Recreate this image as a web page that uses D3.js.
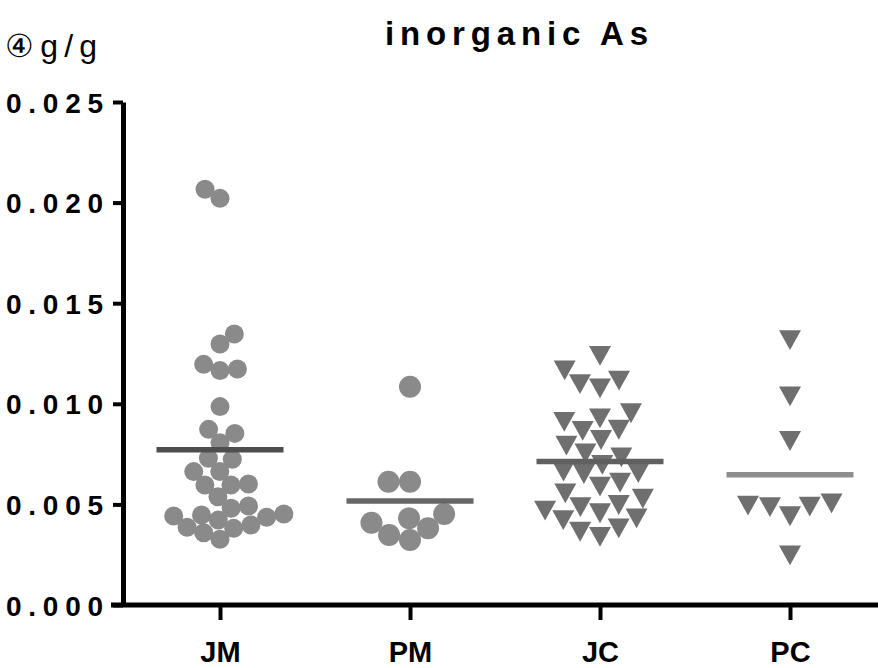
<!DOCTYPE html>
<html><head><meta charset="utf-8">
<script src="https://cdn.jsdelivr.net/npm/d3@7"></script>
<style>
body{margin:0;background:#fff;}
svg{display:block;font-family:"Liberation Sans",Arial,Helvetica,sans-serif;}
</style></head><body>
<svg id="chart" width="878" height="668"></svg>
<script>
// ---------- data ----------
const categories = ["JM", "PM", "JC", "PC"];
const jmValues = [0.02066, 0.02021, 0.01347, 0.01297, 0.01196, 0.01165, 0.01173, 0.00986,
  0.00853, 0.00873, 0.00807, 0.00729, 0.00724, 0.00663, 0.00663, 0.00601, 0.00596, 0.00596,
  0.00538, 0.00481, 0.00447, 0.00442, 0.00452, 0.00492, 0.00436, 0.00398, 0.00381, 0.00359,
  0.00386, 0.00422, 0.00327];
const pmValues = [0.01085, 0.00613, 0.00613, 0.00431, 0.00381, 0.00323, 0.00348, 0.00409, 0.00452];
const jcValues = [0.01238, 0.01166, 0.01115, 0.01077, 0.01098, 0.00953, 0.00928, 0.00910,
  0.00865, 0.00871, 0.00820, 0.00792, 0.00734, 0.00754, 0.00696, 0.00651, 0.00663, 0.00655,
  0.00588, 0.00608, 0.00555, 0.00528, 0.00497, 0.00469, 0.00486, 0.00431, 0.00456, 0.00422,
  0.00381, 0.00364, 0.00339];
const pcValues = [0.01316, 0.01037, 0.00815, 0.00494, 0.00486, 0.00441, 0.00489, 0.00505, 0.00247];
const yTickValues = [0.000, 0.005, 0.010, 0.015, 0.020, 0.025];
const titleText = "inorganic As";
const unitText = "④g/g";

// ---------- styles (not data) ----------
const seriesStyle = {
  JM: {shape: "circle", size: 19, gap: 17.5, fill: "#8a8a8a", line: "#4e4e4e"},
  PM: {shape: "circle", size: 22, gap: 21.5, fill: "#8a8a8a", line: "#666666"},
  JC: {shape: "triangle", size: 22, gap: 20.5, fill: "#6f6f6f", line: "#606060"},
  PC: {shape: "triangle", size: 22, gap: 22, fill: "#6f6f6f", line: "#8e8e8e"}
};
const series = [
  {cat: "JM", values: jmValues},
  {cat: "PM", values: pmValues},
  {cat: "JC", values: jcValues},
  {cat: "PC", values: pcValues}
];

const svg = d3.select("#chart");
const axisX0 = 123, axisY0 = 605, axisYTop = 102;

const y = d3.scaleLinear().domain([0, 0.025]).range([axisY0, axisYTop]);
const x = d3.scalePoint().domain(categories).range([axisX0 + 2, 885]).padding(0.5);

// swarm layout: ascending order, closest non-colliding offset, alternate sides
function swarm(values, D) {
  const order = values.map((v, i) => i).sort((a, b) => values[a] - values[b]);
  const placed = [];
  const off = new Array(values.length);
  let pref = -1;
  for (const i of order) {
    const py = y(values[i]);
    const near = placed.filter(p => Math.abs(p.y - py) < D);
    const cands = [0];
    near.forEach(p => {
      const h = Math.sqrt(D * D - (p.y - py) ** 2);
      cands.push(p.x - h, p.x + h);
    });
    const valid = cands.filter(c => near.every(p => (p.x - c) ** 2 + (p.y - py) ** 2 >= D * D - 0.05));
    valid.sort((a, b) => Math.abs(a) - Math.abs(b));
    let best = valid[0];
    if (Math.abs(best) > 0.01) {
      const twin = valid.find(c => Math.sign(c) === pref && Math.abs(Math.abs(c) - Math.abs(best)) < 4);
      if (twin !== undefined) best = twin;
      pref = -Math.sign(best);
    }
    off[i] = best;
    placed.push({x: best, y: py});
  }
  return off;
}

// ---------- axes ----------
const yAxis = d3.axisLeft(y).tickValues(yTickValues).tickFormat(d3.format(".3f"))
  .tickSize(10).tickSizeOuter(0).tickPadding(10);
const gy = svg.append("g").attr("transform", `translate(${axisX0},0)`).call(yAxis);
gy.select(".domain").attr("stroke", "#000").attr("stroke-width", 5);
gy.selectAll(".tick line").attr("stroke", "#000").attr("stroke-width", 4);
gy.selectAll(".tick text").attr("fill", "#000").attr("font-size", 28).attr("font-weight", "bold")
  .attr("textLength", 97).attr("lengthAdjust", "spacing").attr("dy", "0.36em");

const xAxis = d3.axisBottom(x).tickSize(15).tickSizeOuter(0);
const gx = svg.append("g").attr("transform", `translate(0,${axisY0})`).call(xAxis);
gx.select(".domain").attr("stroke", "#000").attr("stroke-width", 5)
  .attr("d", `M${axisX0 - 12},0H885`);
gx.selectAll(".tick line").attr("stroke", "#000").attr("stroke-width", 4);
gx.selectAll(".tick text").attr("fill", "#000").attr("font-size", 29)
  .attr("font-weight", "bold").attr("y", 57).attr("dy", 0);

// ---------- points ----------
const tri = s => `M${-s / 2},${-s * 0.45}L${s / 2},${-s * 0.45}L0,${s * 0.45}Z`;
series.forEach(sr => {
  const st = seriesStyle[sr.cat];
  const offs = swarm(sr.values, st.gap);
  const cx = x(sr.cat);
  const g = svg.append("g").attr("class", "series-" + sr.cat);
  const pts = sr.values.map((v, i) => ({v, dx: offs[i]}));
  if (st.shape === "circle") {
    g.selectAll("circle").data(pts).join("circle")
      .attr("cx", d => cx + d.dx).attr("cy", d => y(d.v)).attr("r", st.size / 2)
      .attr("fill", st.fill);
  } else {
    g.selectAll("path").data(pts).join("path")
      .attr("transform", d => `translate(${cx + d.dx},${y(d.v)})`)
      .attr("d", tri(st.size)).attr("fill", st.fill);
  }
  const m = d3.mean(sr.values);
  svg.append("line").attr("x1", cx - 63.5).attr("x2", cx + 63.5)
    .attr("y1", y(m)).attr("y2", y(m))
    .attr("stroke", st.line).attr("stroke-width", 5.5);
});

// ---------- texts ----------
svg.append("text").attr("x", 385).attr("y", 45)
  .attr("font-size", 33).attr("font-weight", "bold")
  .attr("textLength", 263).attr("lengthAdjust", "spacing")
  .text(titleText);
svg.append("text").attr("x", 5).attr("y", 57)
  .attr("font-size", 32)
  .attr("textLength", 92).attr("lengthAdjust", "spacing")
  .text(unitText);
</script>
</body></html>
